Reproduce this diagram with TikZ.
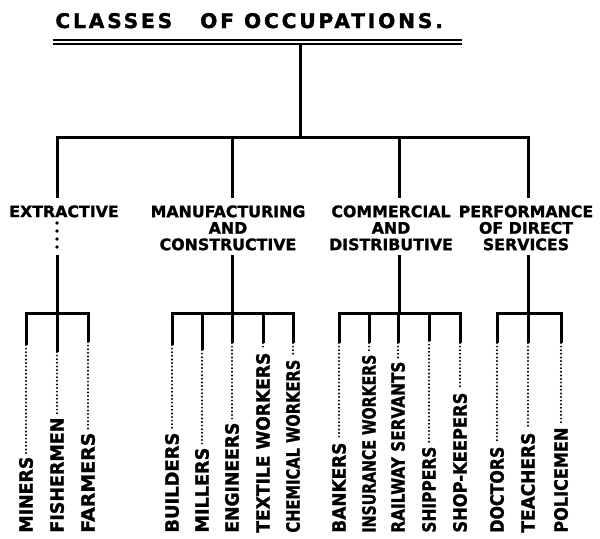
\documentclass[tikz,border=0pt]{standalone}
\usepackage{graphicx}
\usepackage{fontspec}
\newfontfamily\titlefont[LetterSpace=14,BoldFeatures={FakeBold=1.6}]{DejaVu Sans}
\newfontfamily\occfont[BoldFeatures={FakeBold=1.4}]{DejaVu Sans}
\newcommand\occname[2]{\resizebox{#1pt}{6.8pt}{\occfont\bfseries\fontsize{9}{9}\selectfont #2}}

\begin{document}
\begin{tikzpicture}[x=0.5pt,y=-0.5pt,
  branch/.style={line width=1.5pt},
  dotline/.style={line width=1.1pt, line cap=round, dash pattern=on 0pt off 1.8pt, shorten >=1.5pt},
  bigdots/.style={line width=1.9pt, line cap=round, dash pattern=on 0pt off 4pt},
  group/.style={align=center, anchor=north, inner sep=0pt, font=\occfont\bfseries\fontsize{7.9}{8.25}\selectfont},
  leaf/.style={rotate=90, anchor=west, inner sep=0pt}]
\useasboundingbox (0,0) rectangle (600,538);

\node[anchor=base west, inner sep=0pt, font=\titlefont\bfseries\fontsize{10.1}{11}\selectfont] (title) at (55,28) {CLASSES\hspace{14pt}OF\hspace{5pt}OCCUPATIONS.};
\draw[line width=0.9pt] (53,40) -- (462,40);
\draw[line width=0.9pt] (53,44) -- (462,44);

\coordinate (root) at (300,44);
\coordinate (hub) at (300,137);
\draw[branch] (root) -- (hub);

\node[group] (ext) at (64,205) {EXTRACTIVE};
\node[group] (man) at (228,205) {MANUFACTURING\\AND\\CONSTRUCTIVE};
\node[group] (com) at (391,205) {COMMERCIAL\\AND\\DISTRIBUTIVE};
\node[group] (per) at (526,205) {PERFORMANCE\\OF DIRECT\\SERVICES};

\coordinate (extin) at (57,198);
\coordinate (manin) at (232,198);
\coordinate (comin) at (399,198);
\coordinate (perin) at (528,198);
\draw[branch] (hub) -| (extin);
\draw[branch] (hub) -| (manin);
\draw[branch] (hub) -| (comin);
\draw[branch] (hub) -| (perin);

\coordinate (extdot) at (57,223);
\coordinate (extout) at (57,255);
\coordinate (extbar) at (57,313);
\draw[bigdots] (extdot) -- (57,248);
\draw[branch] (extout) -- (extbar);
\coordinate (manout) at (232,255);
\coordinate (manbar) at (232,313);
\draw[branch] (manout) -- (manbar);
\coordinate (comout) at (399,255);
\coordinate (combar) at (399,313);
\draw[branch] (comout) -- (combar);
\coordinate (perout) at (528,255);
\coordinate (perbar) at (528,313);
\draw[branch] (perout) -- (perbar);

\node[leaf] (miners) at (26,533) {\occname{38}{MINERS}};
\node[leaf] (fishermen) at (57,533) {\occname{57.5}{FISHERMEN}};
\node[leaf] (farmers) at (88,533) {\occname{50}{FARMERS}};
\coordinate (miners-end) at (26,345);
\coordinate (fishermen-end) at (57,352);
\coordinate (farmers-end) at (88,342);
\draw[branch] (miners-end) |- (extbar);
\draw[branch] (fishermen-end) -- (extbar);
\draw[branch] (farmers-end) |- (extbar);
\draw[dotline] (miners-end) -- (miners.east);
\draw[dotline] (fishermen-end) -- (fishermen.east);
\draw[dotline] (farmers-end) -- (farmers.east);

\node[leaf] (builders) at (172,533) {\occname{50}{BUILDERS}};
\node[leaf] (millers) at (202,533) {\occname{42.5}{MILLERS}};
\node[leaf] (engineers) at (232,533) {\occname{55}{ENGINEERS}};
\node[leaf] (textile) at (263,533) {\occname{90}{TEXTILE WORKERS}};
\node[leaf] (chemical) at (293,533) {\occname{86.5}{CHEMICAL WORKERS}};
\coordinate (builders-end) at (172,345);
\coordinate (millers-end) at (202,350);
\coordinate (engineers-end) at (232,343);
\coordinate (textile-end) at (263,343);
\coordinate (chemical-end) at (293,343);
\draw[branch] (builders-end) |- (manbar);
\draw[branch] (millers-end) |- (manbar);
\draw[branch] (engineers-end) -- (manbar);
\draw[branch] (textile-end) |- (manbar);
\draw[branch] (chemical-end) |- (manbar);
\draw[dotline] (builders-end) -- (builders.east);
\draw[dotline] (millers-end) -- (millers.east);
\draw[dotline] (engineers-end) -- (engineers.east);
\draw[dotline] (textile-end) -- (textile.east);
\draw[dotline] (chemical-end) -- (chemical.east);

\node[leaf] (bankers) at (339,533) {\occname{45}{BANKERS}};
\node[leaf] (insurance) at (369,533) {\occname{89}{INSURANCE WORKERS}};
\node[leaf] (railway) at (398,533) {\occname{85.5}{RAILWAY SERVANTS}};
\node[leaf] (shippers) at (429,533) {\occname{43}{SHIPPERS}};
\node[leaf] (shopkeepers) at (460,533) {\occname{70}{SHOP-KEEPERS}};
\coordinate (bankers-end) at (339,343);
\coordinate (insurance-end) at (369,343);
\coordinate (railway-end) at (398,343);
\coordinate (shippers-end) at (429,341);
\coordinate (shopkeepers-end) at (460,343);
\draw[branch] (bankers-end) |- (combar);
\draw[branch] (insurance-end) |- (combar);
\draw[branch] (railway-end) |- (combar);
\draw[branch] (shippers-end) |- (combar);
\draw[branch] (shopkeepers-end) |- (combar);
\draw[dotline] (bankers-end) -- (bankers.east);
\draw[dotline] (insurance-end) -- (insurance.east);
\draw[dotline] (railway-end) -- (railway.east);
\draw[dotline] (shippers-end) -- (shippers.east);
\draw[dotline] (shopkeepers-end) -- (shopkeepers.east);

\node[leaf] (doctors) at (497,533) {\occname{43}{DOCTORS}};
\node[leaf] (teachers) at (528,533) {\occname{50}{TEACHERS}};
\node[leaf] (policemen) at (561,533) {\occname{52.5}{POLICEMEN}};
\coordinate (doctors-end) at (497,343);
\coordinate (teachers-end) at (528,343);
\coordinate (policemen-end) at (561,343);
\draw[branch] (doctors-end) |- (perbar);
\draw[branch] (teachers-end) -- (perbar);
\draw[branch] (policemen-end) |- (perbar);
\draw[dotline] (doctors-end) -- (doctors.east);
\draw[dotline] (teachers-end) -- (teachers.east);
\draw[dotline] (policemen-end) -- (policemen.east);
\end{tikzpicture}
\end{document}
